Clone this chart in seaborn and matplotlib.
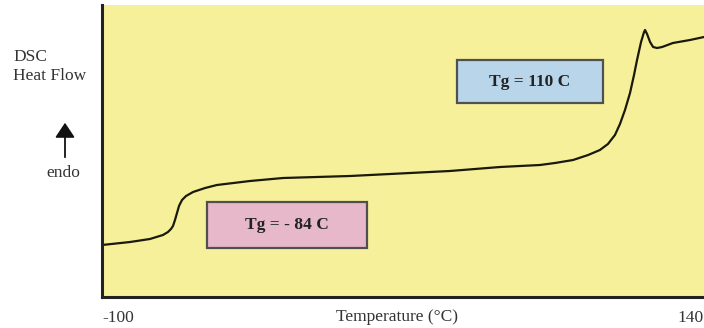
import matplotlib
matplotlib.use("Agg")
import matplotlib.pyplot as plt
import seaborn as sns
import pandas as pd
from matplotlib.patches import Rectangle, FancyArrowPatch

# ---- data ----
temperature = [-100, -88.8, -80.9, -75.7, -73.7, -72.5, -71.7, -70.9, -70.1, -69.3,
               -68.1, -66.5, -63.7, -58.9, -54.2, -41.0, -27.8, -1.1, 14.8, 38.7,
               58.7, 74.6, 80.6, 87.8, 93.8, 98.5, 101.7, 104.5, 106.5, 108.5,
               110.5, 112.1, 113.3, 114.9, 116.1, 116.5, 117.3, 118.5, 119.7, 121.3,
               123.3, 127.6, 134.4, 140]
heat_flow = [52, 55, 58, 62, 65, 68, 71, 77, 84, 91,
             97, 101, 105, 109, 112, 116, 119, 121, 123, 126,
             130, 132, 134, 137, 142, 147, 153, 162, 173, 187,
             204, 222, 237, 255, 265, 267, 263, 255, 250, 249,
             250, 254, 257, 260]
xtick_values = [-100, 140]
xtick_labels = ["-100", "140"]
tg_labels = ["Tg = - 84 C", "Tg = 110 C"]

df = pd.DataFrame({"Temperature": temperature, "HeatFlow": heat_flow})

sns.set_style("white")
plt.rcParams["font.family"] = ["Liberation Serif", "DejaVu Serif"]

W, H = 704, 328
fig = plt.figure(figsize=(W / 100, H / 100), dpi=100)

def fx(px):
    return px / W

def fy(py):
    return (H - py) / H

ax_left, ax_right, ax_top, ax_bottom = 102, 704, 5, 297
ax = fig.add_axes([fx(ax_left), fy(ax_bottom), fx(ax_right - ax_left), (ax_bottom - ax_top) / H])
ax.set_facecolor("#f6f09b")

sns.lineplot(data=df, x="Temperature", y="HeatFlow", ax=ax, color="#1a1a0a",
             linewidth=1.6, sort=False)

ax.set_xlim(-100, 140)
ax.set_ylim(0, 292)
for s in ["top", "right"]:
    ax.spines[s].set_visible(False)
for s in ["left", "bottom"]:
    ax.spines[s].set_color("#222222")
    ax.spines[s].set_linewidth(2.2)

ax.set_yticks([])
ax.set_ylabel("")
ax.set_xticks(xtick_values)
ax.set_xticklabels(xtick_labels, fontsize=12.5, color="#333333")
ax.tick_params(axis="x", length=0, pad=9)
tl = ax.get_xticklabels()
tl[0].set_ha("left")
tl[1].set_ha("right")

ax.set_xlabel("Temperature (°C)", fontsize=12.5, color="#333333")
ax.xaxis.set_label_coords((397 - ax_left) / (ax_right - ax_left), -20 / (ax_bottom - ax_top))
ax.xaxis.label.set_va("center")

# Tg boxes (figure pixel positions)
boxes = [((207, 202, 367, 248), "#e7b7ca"), ((457, 60, 603, 103), "#b9d5ea")]
for (x0, y0, x1, y1), col in boxes:
    r = Rectangle((fx(x0), fy(y1)), fx(x1 - x0), (y1 - y0) / H, transform=fig.transFigure,
                  facecolor=col, edgecolor="#505050", linewidth=1.6, zorder=5)
    fig.add_artist(r)
fig.text(fx(287), fy(225), tg_labels[0], ha="center", va="center", fontsize=12.5,
         fontweight="bold", color="#222222", zorder=6)
fig.text(fx(530), fy(82), tg_labels[1], ha="center", va="center", fontsize=12.5,
         fontweight="bold", color="#222222", zorder=6)

# Y label and endo arrow
fig.text(fx(13), fy(49), "DSC\nHeat Flow", ha="left", va="top", fontsize=12.5,
         color="#333333", linespacing=1.25)
arrow = FancyArrowPatch((fx(65), fy(160)), (fx(65), fy(120)), transform=fig.transFigure,
                        arrowstyle="-|>,head_length=6,head_width=4", color="#111111",
                        linewidth=1.3, mutation_scale=1.5)
fig.add_artist(arrow)
fig.text(fx(63), fy(173), "endo", ha="center", va="center", fontsize=12.5, color="#333333")

fig.savefig("out.png", dpi=100)
